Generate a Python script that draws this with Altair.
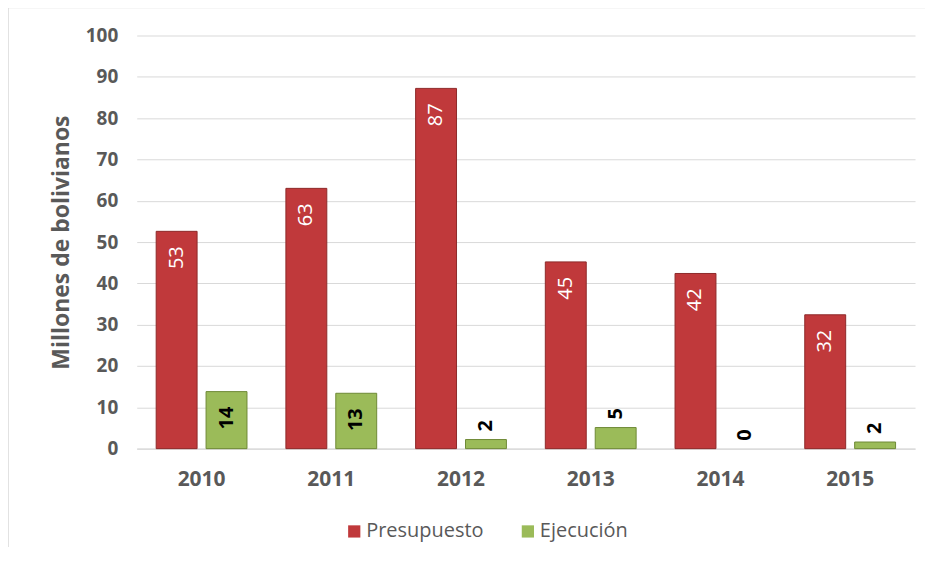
import altair as alt
import pandas as pd

years = ["2010", "2011", "2012", "2013", "2014", "2015"]
presupuesto = [52.6, 63.0, 87.2, 45.2, 42.4, 32.4]
ejecucion = [13.8, 13.4, 2.2, 5.1, 0.0, 1.6]
series = ["Presupuesto", "Ejecución"]
fill_colors = ["#C0393B", "#9BBB59"]
edge_colors = ["#8E2A2A", "#6E8A36"]
y_ticks = list(range(0, 101, 10))

rows = []
for i, yr in enumerate(years):
    rows.append({"anio": yr, "serie": series[0], "valor": presupuesto[i]})
    rows.append({"anio": yr, "serie": series[1], "valor": ejecucion[i]})
df = pd.DataFrame(rows)

FONT = "Open Sans"
GRAY = "#595959"
GRID = "#D9D9D9"

x = alt.X(
    "anio:N", sort=years, title=None,
    scale=alt.Scale(domain=years, paddingInner=0.3, paddingOuter=0.15),
    axis=alt.Axis(labelAngle=0, labelFont=FONT, labelFontSize=21, labelFontWeight="bold",
                  labelColor=GRAY, labelPadding=20, ticks=False, tickSize=0,
                  domainColor=GRID, domainWidth=1.5, grid=False),
)
xo = alt.XOffset("serie:N", scale=alt.Scale(domain=series, paddingInner=0.18, paddingOuter=0))
y = alt.Y(
    "valor:Q", scale=alt.Scale(domain=[0, 100], nice=False),
    axis=alt.Axis(values=y_ticks, title="Millones de bolivianos", titleFont=FONT,
                  titleFontSize=23, titleFontWeight="bold", titleColor=GRAY,
                  titleX=-75, titleY=207, titleAlign="center", titleBaseline="middle",
                  titleAngle=270,
                  labelFont=FONT, labelFontSize=19, labelFontWeight="bold", labelColor=GRAY,
                  labelPadding=19, ticks=False, tickSize=0, domain=False,
                  gridColor=GRID, gridWidth=1),
)

base = alt.Chart(df)

bars = base.transform_filter(alt.datum.valor > 0).mark_bar(strokeWidth=1).encode(
    x=x, xOffset=xo, y=y,
    color=alt.Color("serie:N", scale=alt.Scale(domain=series, range=fill_colors),
                    legend=alt.Legend(title=None, orient="none", legendX=208, legendY=487,
                                      direction="horizontal", symbolType="square",
                                      symbolSize=150, symbolStrokeWidth=0,
                                      labelFont=FONT, labelFontSize=20, labelColor=GRAY,
                                      labelOffset=2, columnPadding=34)),
    stroke=alt.Stroke("serie:N", scale=alt.Scale(domain=series, range=edge_colors), legend=None),
)

red_labels = base.transform_filter(alt.datum.serie == series[0]).mark_text(
    angle=270, align="right", baseline="middle", dx=-15, color="white",
    font=FONT, fontSize=20,
).encode(x=x, xOffset=xo, y=y, text=alt.Text("valor:Q", format=".0f"))

green_in = base.transform_filter(
    (alt.datum.serie == series[1]) & (alt.datum.valor >= 10)
).mark_text(
    angle=270, align="right", baseline="middle", dx=-15, color="black",
    font=FONT, fontSize=20, fontWeight="bold",
).encode(x=x, xOffset=xo, y=y, text=alt.Text("valor:Q", format=".0f"))

green_out = base.transform_filter(
    (alt.datum.serie == series[1]) & (alt.datum.valor < 10)
).mark_text(
    angle=270, align="left", baseline="middle", dx=8, color="black",
    font=FONT, fontSize=20, fontWeight="bold",
).encode(x=x, xOffset=xo, y=y, text=alt.Text("valor:Q", format=".0f"))

frame_df = pd.DataFrame({"k": [0]})
frame_left = alt.Chart(frame_df).mark_rule(color=GRID, strokeWidth=1.5).encode(
    x=alt.value(-129), y=alt.value(-28), y2=alt.value(525)
)
frame_top = alt.Chart(frame_df).mark_rule(color=GRID, strokeWidth=1.5).encode(
    x=alt.value(-129), x2=alt.value(795), y=alt.value(-28)
)

chart = alt.layer(bars, red_labels, green_in, green_out, frame_left, frame_top).properties(
    width=780, height=414,
    autosize=alt.AutoSizeParams(type="none"),
    padding={"left": 129, "top": 27, "right": 10, "bottom": 98},
    background="white",
).configure_view(stroke=None)

chart.save("out.html", embed_options={"renderer": "svg", "actions": False})
